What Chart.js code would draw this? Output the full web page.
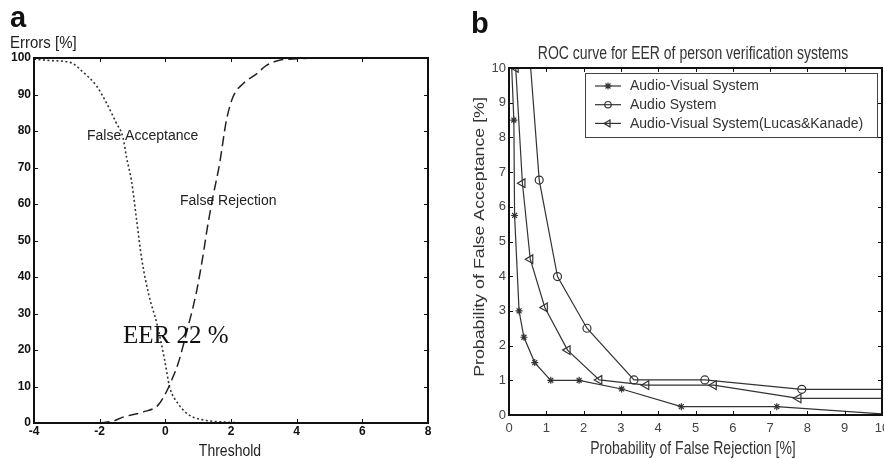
<!DOCTYPE html>
<html lang="en">
<head>
  <meta charset="utf-8">
  <title>EER and ROC curves</title>
  <script src="https://cdn.jsdelivr.net/npm/chart.js"></script>
  <style>
    html, body { margin: 0; padding: 0; background: #fff; overflow: hidden; width: 884px; height: 459px; }
    .panel { position: absolute; top: 0; height: 459px; }
    #panel-a { left: 0; width: 440px; }
    #panel-b { left: 440px; width: 460px; }
  </style>
</head>
<body>
<div class="panel" id="panel-a"><canvas id="chart-a"></canvas></div>
<div class="panel" id="panel-b"><canvas id="chart-b"></canvas></div>
<script>
  // (a) error rates against the decision threshold
  const faThreshold = [-4, -3.5, -2.9, -2.5, -2.1, -1.8, -1.5, -1.29, -1.18, -1.03, -0.88, -0.72, -0.5, -0.25, -0.02, 0.13, 0.39, 0.74, 1.25, 1.75, 2.3, 6.3];
  const falseAcceptance = [99.7, 99.3, 98.8, 96.1, 92.4, 87.8, 82.3, 78.2, 72.7, 66.3, 56, 45, 35, 27, 17.2, 9.9, 5.3, 2.1, 0.7, 0.3, 0.05, 0];
  const frThreshold = [-2, -1.6, -1.29, -0.68, -0.22, 0.03, 0.19, 0.39, 0.64, 0.95, 1.15, 1.27, 1.45, 1.65, 1.86, 2.06, 2.36, 2.77, 3.07, 3.48, 3.9, 4.5, 7];
  const falseRejection = [0, 0.5, 1.6, 3.0, 4.9, 8.5, 11.7, 16.3, 24.6, 36, 46, 53, 62, 70.9, 82.9, 89.3, 92.9, 95.6, 97.9, 99.4, 99.7, 100, 100];
  const thresholdTicks = [-4, -2, 0, 2, 4, 6, 8];
  const errorTicks = [0, 10, 20, 30, 40, 50, 60, 70, 80, 90, 100];

  // (b) ROC: false rejection (x) vs false acceptance (y), in %
  const avRejection = [0.05, 0.13, 0.15, 0.27, 0.40, 0.69, 1.12, 1.88, 3.02, 4.62, 7.18, 10];
  const avAcceptance = [10.6, 8.5, 5.75, 3.0, 2.24, 1.51, 1.0, 1.0, 0.75, 0.24, 0.24, 0.03];
  const audioRejection = [0.44, 0.81, 1.30, 2.09, 3.35, 5.25, 7.85, 10];
  const audioAcceptance = [12, 6.77, 3.99, 2.5, 1.01, 1.01, 0.74, 0.74];
  const lkRejection = [0.18, 0.36, 0.57, 0.96, 1.57, 2.42, 3.68, 5.49, 7.76, 10];
  const lkAcceptance = [10, 6.68, 4.49, 3.10, 1.87, 1.01, 0.86, 0.86, 0.48, 0.48];
  const rocTicks = [0, 1, 2, 3, 4, 5, 6, 7, 8, 9, 10];
  const rocNames = ['Audio-Visual System', 'Audio System', 'Audio-Visual System(Lucas&Kanade)'];

  const SANS = '"Liberation Sans", Arial, sans-serif';
  const SERIF = '"Liberation Serif", "Times New Roman", serif';
  Chart.defaults.font.family = SANS;

  const pts = (xs, ys) => xs.map((x, i) => ({ x: x, y: ys[i] }));
  const fixTicks = list => scale => { scale.ticks = list.map(v => ({ value: v })); };

  // text with optional rotation and stretch
  function label(ctx, text, x, y, o) {
    ctx.save();
    ctx.translate(x, y);
    if (o.rot) ctx.rotate(o.rot);
    ctx.scale(o.sx || 1, o.sy || 1);
    ctx.font = o.font;
    ctx.fillStyle = o.color || '#222';
    ctx.textAlign = o.align || 'left';
    ctx.textBaseline = o.base || 'alphabetic';
    ctx.fillText(text, 0, 0);
    ctx.restore();
  }

  // box round the plot with ticks pointing inwards on all four sides
  const frame = {
    id: 'frame',
    afterDatasetsDraw(chart, args, opts) {
      const { ctx, chartArea: { left, right, top, bottom }, scales: { x, y } } = chart;
      ctx.save();
      ctx.strokeStyle = opts.color;
      ctx.lineWidth = 1;
      ctx.beginPath();
      x.ticks.forEach(t => {
        const px = Math.round(x.getPixelForValue(t.value)) + 0.5;
        ctx.moveTo(px, bottom); ctx.lineTo(px, bottom - opts.len);
        ctx.moveTo(px, top); ctx.lineTo(px, top + opts.len);
      });
      y.ticks.forEach(t => {
        const py = Math.round(y.getPixelForValue(t.value)) + 0.5;
        ctx.moveTo(left, py); ctx.lineTo(left + opts.len, py);
        ctx.moveTo(right, py); ctx.lineTo(right - opts.len, py);
      });
      ctx.stroke();
      ctx.lineWidth = opts.width;
      ctx.strokeRect(left, top, right - left, bottom - top);
      ctx.restore();
    }
  };

  const annotateA = {
    id: 'annotateA',
    afterDraw(chart) {
      const ctx = chart.ctx;
      label(ctx, 'a', 10, 27, { font: 'bold 29px ' + SANS, color: '#111' });
      label(ctx, 'Errors [%]', 10, 48, { font: '15px ' + SANS, color: '#222', sy: 1.1 });
      label(ctx, 'Threshold', 230, 456, { font: '14px ' + SANS, align: 'center', sy: 1.15 });
      label(ctx, 'False Acceptance', 87, 140, { font: '14px ' + SANS, sy: 1.1 });
      label(ctx, 'False Rejection', 180, 205, { font: '14px ' + SANS, sy: 1.1 });
      label(ctx, 'EER 22 %', 123, 343, { font: '25px ' + SERIF, color: '#111' });
    }
  };

  new Chart(document.getElementById('chart-a'), {
    type: 'scatter',
    data: {
      datasets: [{
        label: 'False Acceptance',
        data: pts(faThreshold, falseAcceptance),
        showLine: true,
        borderColor: '#333',
        borderWidth: 1.6,
        borderDash: [2, 2.5],
        pointRadius: 0,
        cubicInterpolationMode: 'monotone'
      }, {
        label: 'False Rejection',
        data: pts(frThreshold, falseRejection),
        showLine: true,
        borderColor: '#222',
        borderWidth: 1.5,
        borderDash: [10, 5],
        pointRadius: 0,
        cubicInterpolationMode: 'monotone'
      }]
    },
    options: {
      responsive: true,
      maintainAspectRatio: false,
      animation: false,
      layout: { autoPadding: false, padding: { top: 58, right: 12, left: 0, bottom: 0 } },
      plugins: { legend: { display: false }, tooltip: { enabled: false }, frame: { color: '#111', len: 4, width: 2 } },
      scales: {
        x: {
          min: -4, max: 8,
          afterBuildTicks: fixTicks(thresholdTicks),
          afterFit: s => { s.height = 36; },
          grid: { display: false, drawTicks: false },
          border: { display: false },
          ticks: { padding: 3, color: '#111', font: { size: 12, weight: 'bold', lineHeight: 1 }, maxRotation: 0 }
        },
        y: {
          min: 0, max: 100,
          afterBuildTicks: fixTicks(errorTicks),
          afterFit: s => { s.width = 34; },
          grid: { display: false, drawTicks: false },
          border: { display: false },
          ticks: { padding: 3, color: '#111', font: { size: 12, weight: 'bold' } }
        }
      }
    },
    plugins: [frame, annotateA]
  });

  // marker look for each ROC series
  const rocStyles = [
    { pointStyle: 'star', radius: 3.5, rotation: 0 },
    { pointStyle: 'circle', radius: 4, rotation: 0 },
    { pointStyle: 'triangle', radius: 5, rotation: 270 }
  ];
  const LINE_B = '#333';

  const annotateB = {
    id: 'annotateB',
    afterDraw(chart) {
      const ctx = chart.ctx;
      label(ctx, 'b', 31, 33, { font: 'bold 29px ' + SANS, color: '#111' });
      label(ctx, 'ROC curve for EER of person verification systems', 253, 59,
        { font: '14px ' + SANS, color: '#333', align: 'center', sy: 1.25 });
      label(ctx, 'Probability of False Rejection [%]', 253, 454,
        { font: '14px ' + SANS, color: '#333', align: 'center', sy: 1.25 });
      label(ctx, 'Probability of False Acceptance [%]', 44, 237,
        { font: '14px ' + SANS, color: '#333', align: 'center', rot: -Math.PI / 2, sx: 1.27 });

      // legend box
      const bx = 145, by = 73, bw = 292, bh = 64;
      ctx.save();
      ctx.fillStyle = '#fff';
      ctx.fillRect(bx, by, bw, bh);
      ctx.strokeStyle = '#444';
      ctx.lineWidth = 1;
      ctx.strokeRect(bx + 0.5, by + 0.5, bw, bh);
      rocNames.forEach((name, i) => {
        const yy = 86 + i * 18.7;
        ctx.strokeStyle = LINE_B;
        ctx.lineWidth = 1.2;
        ctx.beginPath();
        ctx.moveTo(155, yy); ctx.lineTo(181, yy);
        ctx.stroke();
        if (Chart.helpers && Chart.helpers.drawPoint) {
          ctx.fillStyle = 'rgba(0,0,0,0)';
          const r = i === 0 ? rocStyles[i].radius : rocStyles[i].radius * 0.8;
          Chart.helpers.drawPoint(ctx, Object.assign({ borderWidth: 1.2 }, rocStyles[i], { radius: r }), 168, yy);
        }
        label(ctx, name, 190, yy, { font: '14px ' + SANS, color: '#333', base: 'middle', sy: 1.1 });
      });
      ctx.restore();
    }
  };

  const rocSeries = [[avRejection, avAcceptance], [audioRejection, audioAcceptance], [lkRejection, lkAcceptance]];

  new Chart(document.getElementById('chart-b'), {
    type: 'scatter',
    data: {
      datasets: rocSeries.map((s, i) => ({
        label: rocNames[i],
        data: pts(s[0], s[1]),
        showLine: true,
        borderColor: LINE_B,
        borderWidth: 1.2,
        pointStyle: rocStyles[i].pointStyle,
        rotation: rocStyles[i].rotation,
        pointBorderColor: LINE_B,
        pointBackgroundColor: 'rgba(0,0,0,0)',
        pointBorderWidth: 1.2,
        // no marker where a line runs off the plot edge
        pointRadius: c => (c.raw && c.raw.x < 10 && c.raw.y <= 10) ? rocStyles[i].radius : 0,
        tension: 0
      }))
    },
    options: {
      responsive: true,
      maintainAspectRatio: false,
      animation: false,
      layout: { autoPadding: false, padding: { top: 68, right: 18, left: 0, bottom: 0 } },
      plugins: { legend: { display: false }, tooltip: { enabled: false }, frame: { color: '#111', len: 4, width: 2 } },
      scales: {
        x: {
          min: 0, max: 10,
          afterBuildTicks: fixTicks(rocTicks),
          afterFit: s => { s.height = 44; },
          grid: { display: false, drawTicks: false },
          border: { display: false },
          ticks: { padding: 6, color: '#444', font: { size: 13 }, maxRotation: 0 }
        },
        y: {
          min: 0, max: 10,
          afterBuildTicks: fixTicks(rocTicks),
          afterFit: s => { s.width = 69; },
          grid: { display: false, drawTicks: false },
          border: { display: false },
          ticks: { padding: 3, color: '#444', font: { size: 13 } }
        }
      }
    },
    plugins: [frame, annotateB]
  });
</script>
</body>
</html>
